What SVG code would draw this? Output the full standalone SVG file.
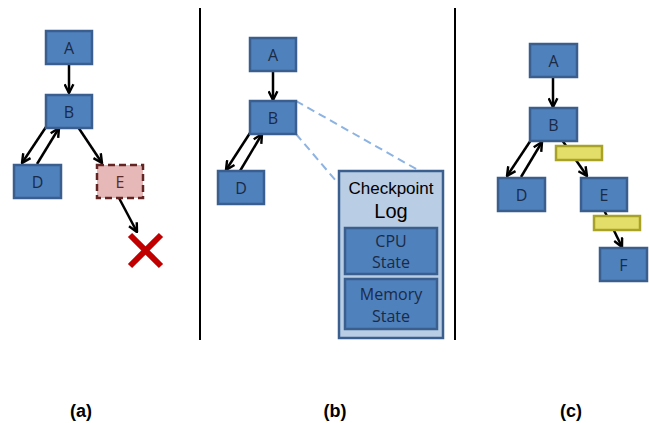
<svg xmlns="http://www.w3.org/2000/svg" width="649" height="423" viewBox="0 0 649 423">
<defs>
<marker id="ah" viewBox="0 0 10 10" refX="9" refY="5" markerWidth="4.4" markerHeight="4.4" orient="auto" markerUnits="strokeWidth">
<path d="M1,1 L9,5 L1,9" fill="none" stroke="#000" stroke-width="2.2"/>
</marker>
<style>
.n{fill:#4F81BD;stroke:#3A5F8F;stroke-width:2.5}
.t{font-family:"Open Sans","Liberation Sans",sans-serif;font-size:16px;fill:#1B2A45;text-anchor:middle;dominant-baseline:central}
.c{stroke:#000;stroke-width:2.5;fill:none;marker-end:url(#ah)}
.dl{stroke:#8DB3E2;stroke-width:2;stroke-dasharray:8,5;fill:none}
.y{fill:#E3DE6A;stroke:#A8A326;stroke-width:2.5}
.lbl{font-family:"Liberation Sans",Arial,sans-serif;font-size:18px;font-weight:bold;text-anchor:middle;fill:#000}
</style>
</defs>
<rect width="649" height="423" fill="#fff"/>
<g id="dividers" stroke="#000" stroke-width="2">
<line x1="200" y1="8" x2="200" y2="340"/>
<line x1="455" y1="8" x2="455" y2="340"/>
</g>
<g id="connectors">
<line class="c" x1="69" y1="64" x2="69" y2="93"/>
<line class="c" x1="46" y1="127" x2="22" y2="163"/>
<line class="c" x1="37" y1="164" x2="59" y2="128"/>
<line class="c" x1="78" y1="127" x2="102" y2="163"/>
<line class="c" x1="119" y1="198" x2="137" y2="232"/>
<line class="c" x1="273" y1="71" x2="273" y2="100"/>
<line class="c" x1="250" y1="133" x2="226" y2="170"/>
<line class="c" x1="240" y1="171" x2="262" y2="134"/>
<line class="dl" x1="296" y1="101" x2="418" y2="170"/>
<line class="dl" x1="296" y1="134" x2="337" y2="182"/>
<line class="c" x1="553" y1="77" x2="553" y2="107"/>
<line class="c" x1="531" y1="140" x2="507" y2="176"/>
<line class="c" x1="521" y1="177" x2="542" y2="142"/>
<line class="c" x1="562" y1="140" x2="587" y2="176"/>
<line class="c" x1="604" y1="210" x2="622" y2="247"/>
</g>
<g id="a-A"><rect class="n" x="46" y="31" width="46" height="33"/><text class="t" x="69" y="47.5">A</text></g>
<g id="a-B"><rect class="n" x="46" y="95" width="46" height="33"/><text class="t" x="69" y="111.5">B</text></g>
<g id="a-D"><rect class="n" x="14" y="165" width="47" height="33"/><text class="t" x="37.5" y="181.5">D</text></g>
<g id="a-E"><rect x="97" y="165" width="46" height="33" fill="#E6B9B8" stroke="#632523" stroke-width="2.5" stroke-dasharray="7,4"/><text class="t" x="120" y="181.5" style="fill:#5a2a2a">E</text></g>
<g id="a-X" stroke="#C00000" stroke-width="6"><line x1="130" y1="235" x2="161" y2="266"/><line x1="161" y1="235" x2="130" y2="266"/></g>
<g id="b-A"><rect class="n" x="250" y="38" width="46" height="33"/><text class="t" x="273" y="54.5">A</text></g>
<g id="b-B"><rect class="n" x="250" y="101" width="46" height="33"/><text class="t" x="273" y="117.5">B</text></g>
<g id="b-D"><rect class="n" x="218" y="171" width="46" height="33"/><text class="t" x="241" y="187.5">D</text></g>
<g id="b-log">
<rect x="339" y="171" width="104" height="167" fill="#B9CDE5" stroke="#3A5F8F" stroke-width="2.5"/>
<text x="391" y="188" font-family="'Liberation Sans',Arial,sans-serif" font-size="17" text-anchor="middle" dominant-baseline="central" fill="#000">Checkpoint</text>
<text x="391" y="211" font-family="'Liberation Sans',Arial,sans-serif" font-size="20" text-anchor="middle" dominant-baseline="central" fill="#000">Log</text>
<g id="b-cpu"><rect class="n" x="345" y="228" width="92" height="46"/><text class="t" x="391" y="241">CPU</text><text class="t" x="391" y="262">State</text></g>
<g id="b-mem"><rect class="n" x="345" y="279" width="92" height="50"/><text class="t" x="391" y="294">Memory</text><text class="t" x="391" y="316">State</text></g>
</g>
<g id="c-A"><rect class="n" x="530" y="44" width="47" height="33"/><text class="t" x="553.5" y="60.5">A</text></g>
<g id="c-B"><rect class="n" x="530" y="108" width="47" height="33"/><text class="t" x="553.5" y="124.5">B</text></g>
<g id="c-D"><rect class="n" x="498" y="178" width="47" height="33"/><text class="t" x="521.5" y="194.5">D</text></g>
<g id="c-E"><rect class="n" x="581" y="178" width="46" height="33"/><text class="t" x="604" y="194.5">E</text></g>
<g id="c-F"><rect class="n" x="600" y="248" width="47" height="33"/><text class="t" x="623.5" y="264.5">F</text></g>
<g id="c-bar1"><rect class="y" x="556" y="146" width="46" height="14"/></g>
<g id="c-bar2"><rect class="y" x="594" y="216" width="46" height="14"/></g>
<g id="labels">
<text class="lbl" x="81" y="417">(a)</text>
<text class="lbl" x="335" y="417">(b)</text>
<text class="lbl" x="571" y="417">(c)</text>
</g>
</svg>
